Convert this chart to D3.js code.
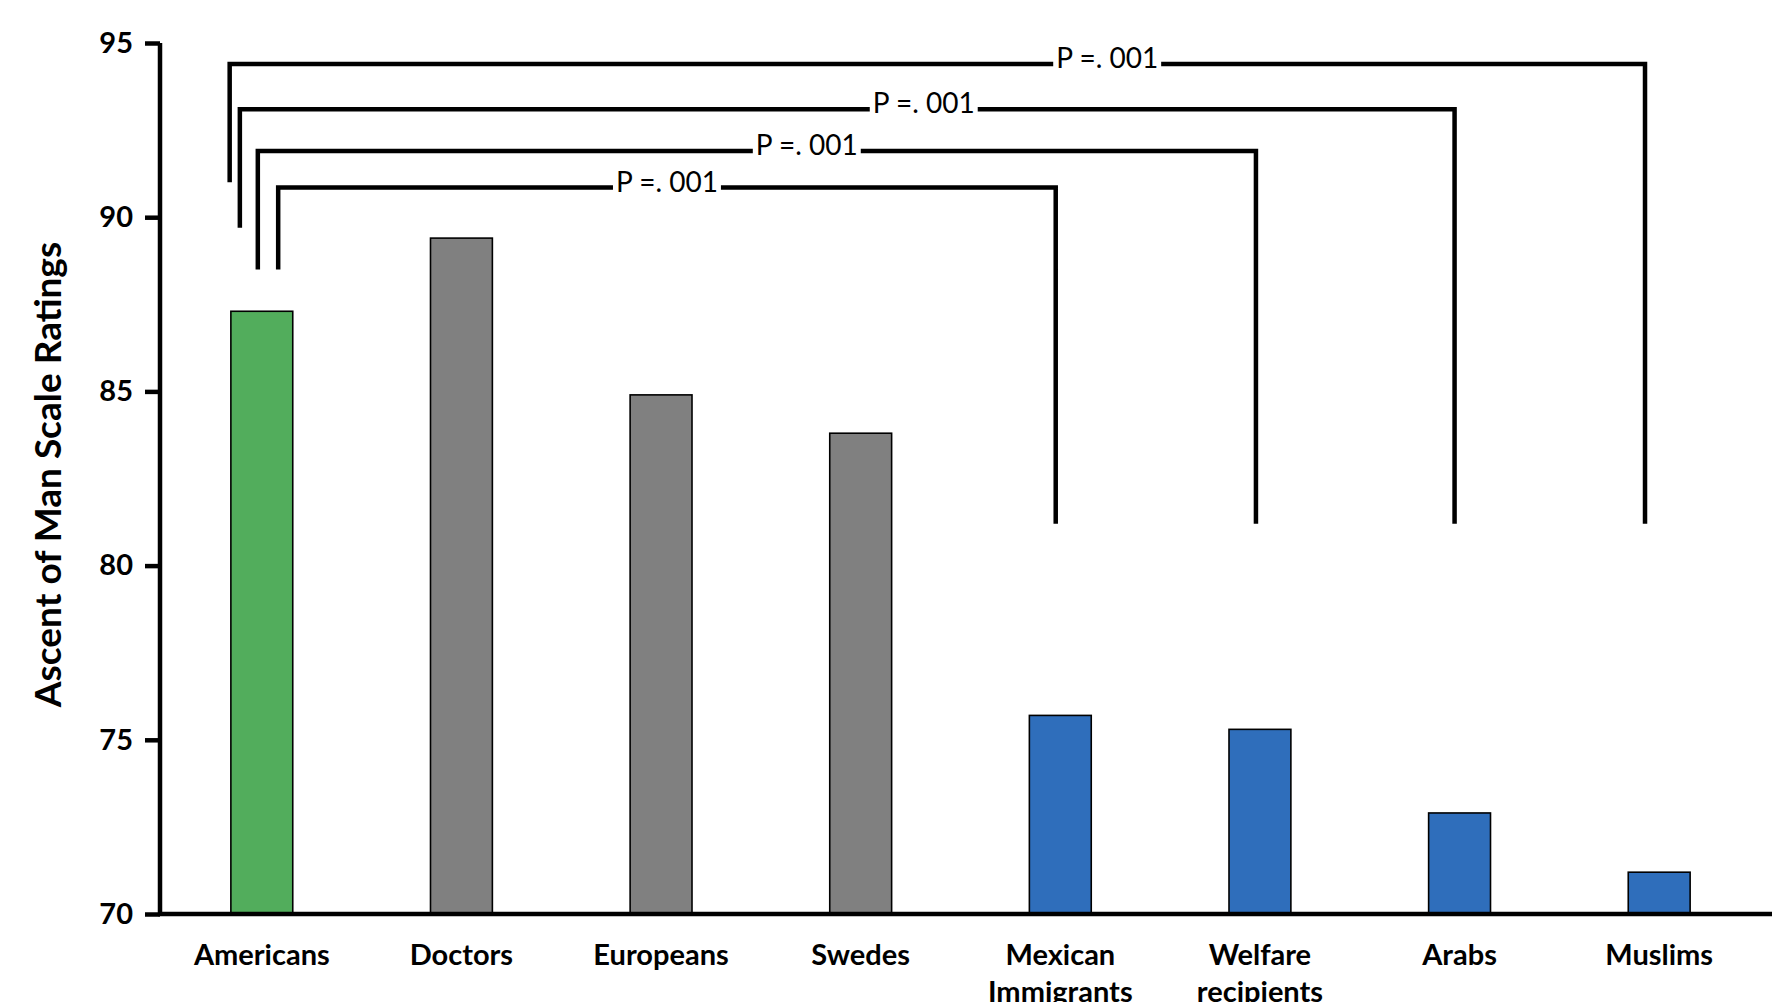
<!DOCTYPE html>
<html>
<head>
<meta charset="utf-8">
<script src="https://cdn.jsdelivr.net/npm/d3@7"></script>
<style>
  body { margin: 0; background: #fff; }
  text { font-family: Lato, "Open Sans", sans-serif; }
</style>
</head>
<body>
<svg id="chart" width="1772" height="1002"></svg>
<script>
// data
const categories = ['Americans', 'Doctors', 'Europeans', 'Swedes', 'Mexican Immigrants', 'Welfare recipients', 'Arabs', 'Muslims'];
const ratings = [87.3, 89.4, 84.9, 83.8, 75.7, 75.3, 72.9, 71.2];
const groups = ['ingroup', 'neutral', 'neutral', 'neutral', 'outgroup', 'outgroup', 'outgroup', 'outgroup'];
const yTicks = [70, 75, 80, 85, 90, 95];

// comparisons Americans vs ...
const compTargets = ['Mexican Immigrants', 'Welfare recipients', 'Arabs', 'Muslims'];
const compTop = [90.85, 91.9, 93.1, 94.4];
const compLeftEnd = [88.5, 88.5, 89.7, 91.0];
const compRightEnd = [81.2, 81.2, 81.2, 81.2];
const compLabels = ['P =. 001', 'P =. 001', 'P =. 001', 'P =. 001'];

// layout only
const leftShift = [0.082, -0.020, -0.110, -0.161];   // in band steps, from Americans centre
const rightShift = [-0.023, -0.020, -0.025, -0.071];
const labelAt = [0.5, 0.55, 0.563, 0.62];

const svg = d3.select('#chart');
const width = +svg.attr('width');
const axisX = 160;

const x = d3.scaleBand()
  .domain(categories)
  .range([axisX + 2, 1759])
  .paddingInner(0.69)
  .paddingOuter(0.345);

const y = d3.scaleLinear()
  .domain([70, 95])
  .range([914, 43]);

const color = d3.scaleOrdinal()
  .domain(['ingroup', 'neutral', 'outgroup'])
  .range(['#52ad5c', '#808080', '#2f6ebb']);

// bars
svg.append('g')
  .selectAll('rect')
  .data(categories)
  .join('rect')
    .attr('x', d => x(d))
    .attr('width', x.bandwidth())
    .attr('y', (d, i) => y(ratings[i]))
    .attr('height', (d, i) => y(70) - y(ratings[i]))
    .style('fill', (d, i) => color(groups[i]))
    .style('stroke', '#000')
    .style('stroke-width', 1.6);

// y axis
let yAxis = svg.append('g')
  .attr('transform', 'translate(' + axisX + ',0)')
  .call(d3.axisLeft(y).tickValues(yTicks).tickSize(15).tickPadding(12).tickSizeOuter(0));
yAxis.select('.domain').style('stroke-width', 4.5).attr('d', 'M0,' + y(95) + 'V' + y(70));
yAxis.selectAll('.tick line').style('stroke-width', 4.5);
yAxis.selectAll('.tick text')
  .style('font-size', '29px')
  .style('font-weight', 'bold')
  .style('fill', '#000');

// x axis line
svg.append('line')
  .attr('x1', axisX - 2)
  .attr('x2', width)
  .attr('y1', y(70))
  .attr('y2', y(70))
  .style('stroke', '#000')
  .style('stroke-width', 4.5);

// x labels
let xl = svg.append('g')
  .selectAll('text')
  .data(categories)
  .join('text')
    .attr('x', d => x(d) + x.bandwidth() / 2)
    .attr('y', 965)
    .attr('text-anchor', 'middle')
    .style('font-size', '29px')
    .style('font-weight', 'bold');
xl.selectAll('tspan')
  .data(d => d.split(' '))
  .join('tspan')
    .attr('x', function() { return this.parentNode.getAttribute('x'); })
    .attr('dy', (d, i) => i === 0 ? 0 : 37)
    .text(d => d);

// y title
svg.append('text')
  .attr('transform', 'translate(52,' + ((y(95) + y(70)) / 2 - 4) + ') rotate(-90)')
  .attr('text-anchor', 'middle')
  .attr('dominant-baseline', 'middle')
  .style('font-size', '37px')
  .style('font-weight', 'bold')
  .text('Ascent of Man Scale Ratings');

// significance brackets
const step = x.step();
const baseCentre = x(categories[0]) + x.bandwidth() / 2;
let br = svg.append('g');
compTargets.forEach((t, i) => {
  let x1 = baseCentre + leftShift[i] * step;
  let x2 = x(t) + x.bandwidth() / 2 + rightShift[i] * step;
  let yt = y(compTop[i]);
  br.append('path')
    .attr('d', 'M' + x1 + ',' + y(compLeftEnd[i]) + 'V' + yt + 'H' + x2 + 'V' + y(compRightEnd[i]))
    .style('fill', 'none')
    .style('stroke', '#000')
    .style('stroke-width', 4.5);
  let lx = x1 + (x2 - x1) * labelAt[i];
  let bg = br.append('rect').style('fill', '#fff');
  let txt = br.append('text')
    .attr('x', lx)
    .attr('y', yt - 3)
    .attr('text-anchor', 'middle')
    .attr('dominant-baseline', 'middle')
    .style('font-size', '28px')
    .text(compLabels[i]);
  let bb = txt.node().getBBox();
  bg.attr('x', bb.x - 3).attr('y', yt - 4).attr('width', bb.width + 6).attr('height', 8);
});
</script>
</body>
</html>
